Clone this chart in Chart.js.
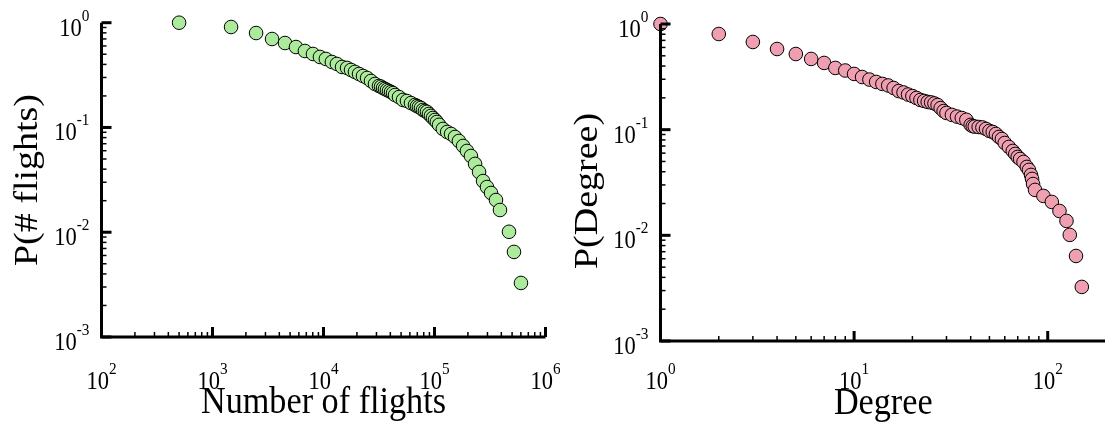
<!DOCTYPE html>
<html>
<head>
<meta charset="utf-8">
<script src="https://cdn.jsdelivr.net/npm/chart.js@4.4.1/dist/chart.umd.min.js"></script>
<style>
  html, body { margin: 0; padding: 0; background: #fff; overflow: hidden; }
  #wrap { position: relative; width: 1105px; height: 425px; overflow: hidden; }
  canvas { position: absolute; top: 0; }
  #flightsChart { left: 0; }
  #degreeChart { left: 560px; }
</style>
</head>
<body>
<div id="wrap">
  <canvas id="flightsChart" width="560" height="425"></canvas>
  <canvas id="degreeChart" width="560" height="425"></canvas>
</div>
<script>
// cumulative distribution of flights per airport
const flightCounts = [500, 1470, 2470, 3440, 4500, 5650, 6800, 8040, 9290, 10500,
  11900, 13200, 14700, 16300, 17700, 19200, 20900, 22700, 24700, 26800,
  29100, 31600, 33000, 34400, 35800, 37300, 38900, 40600, 42300, 44100,
  47900, 52000, 56500, 61400, 66700, 69500, 72400, 75500, 78700, 82000,
  85500, 89100, 92900, 96800, 101000, 105000, 110000, 119000, 130000, 141000,
  153000, 166000, 181000, 196000, 213000, 232000, 252000, 274000, 297000, 323000,
  358000, 389000, 469000, 520000, 601000];
const flightProb = [1, 0.91, 0.797, 0.699, 0.64, 0.586, 0.537, 0.503, 0.471, 0.451,
  0.422, 0.404, 0.378, 0.37, 0.354, 0.339, 0.324, 0.31, 0.297, 0.278,
  0.26, 0.249, 0.245, 0.238, 0.233, 0.228, 0.223, 0.218, 0.213, 0.204,
  0.195, 0.183, 0.179, 0.171, 0.164, 0.16, 0.157, 0.1535, 0.147, 0.1437,
  0.141, 0.1345, 0.129, 0.1232, 0.118, 0.1128, 0.106, 0.0968, 0.0906, 0.0867,
  0.0811, 0.0743, 0.0666, 0.0597, 0.0534, 0.0449, 0.0376, 0.0308, 0.027, 0.0237,
  0.0203, 0.0163, 0.0101, 0.00649, 0.00328];

// cumulative degree distribution
const degreeValues = [1, 2, 3, 4, 5, 6, 7, 8, 9, 10, 11, 12, 13, 14, 15, 16, 17, 18, 19, 20,
  21, 22, 23, 24, 25, 26, 27, 28, 29, 30, 32, 34, 36, 38, 40, 41, 42, 44, 46, 48,
  50, 52, 54, 56, 58, 60, 63, 66, 68, 70, 72, 75, 78, 80, 82, 83, 84, 86, 95, 105,
  115, 125, 130, 140, 150];
const degreeProb = [1, 0.804, 0.676, 0.58, 0.52, 0.467, 0.428, 0.384, 0.363, 0.337,
  0.315, 0.298, 0.283, 0.271, 0.262, 0.248, 0.232, 0.225, 0.215, 0.208,
  0.1995, 0.191, 0.187, 0.183, 0.181, 0.177, 0.171, 0.16, 0.15, 0.144,
  0.138, 0.133, 0.129, 0.124, 0.111, 0.108, 0.107, 0.106, 0.105, 0.1016,
  0.0973, 0.0951, 0.0911, 0.0853, 0.0816, 0.0748, 0.0686, 0.0629, 0.0589, 0.0552,
  0.0528, 0.0495, 0.0444, 0.0416, 0.0373, 0.0342, 0.0306, 0.0269, 0.0236, 0.0207,
  0.017, 0.0137, 0.0101, 0.00638, 0.00325];

// axis labels are written as powers of ten
const flightExps = [2, 3, 4, 5, 6];
const degreeExps = [0, 1, 2];
const probExps = [0, -1, -2, -3];

const SERIF = '"Liberation Serif", "Times New Roman", serif';
const SQUEEZE = 0.9;

function textW(ctx, t) {
  return ctx.measureText(t).width * SQUEEZE;
}

function squeezed(ctx, t, x, y) {
  ctx.save();
  ctx.translate(x, y);
  ctx.scale(SQUEEZE, 1);
  ctx.fillText(t, 0, 0);
  ctx.restore();
}

function drawPower(ctx, exp, x, baseline, align) {
  ctx.textAlign = "left";
  ctx.textBaseline = "alphabetic";
  ctx.font = `25px ${SERIF}`;
  const wb = textW(ctx, "10");
  ctx.font = `17px ${SERIF}`;
  const we = textW(ctx, String(exp));
  const left = align === "right" ? x - wb - we : x - (wb + we) / 2;
  ctx.font = `25px ${SERIF}`;
  squeezed(ctx, "10", left, baseline);
  ctx.font = `17px ${SERIF}`;
  squeezed(ctx, String(exp), left + wb, baseline - 15);
}

function logTickValues(min, max) {
  const out = [];
  for (let e = Math.floor(Math.log10(min)); e <= Math.ceil(Math.log10(max)); e++) {
    for (let m = 1; m <= 9; m++) {
      const v = m * Math.pow(10, e);
      if (v >= min * 0.999 && v <= max * 1.001) out.push({ v, major: m === 1 });
    }
  }
  return out;
}

// inward ticks, thick axis lines and the 10^n labels
const logAxes = {
  id: "logAxes",
  afterDraw(chart, args, o) {
    const { ctx, chartArea: a, scales: { x, y } } = chart;
    ctx.save();
    ctx.strokeStyle = "#000";
    ctx.fillStyle = "#000";
    ctx.lineCap = "butt";

    logTickValues(x.min, x.max).forEach((t) => {
      const px = x.getPixelForValue(t.v);
      ctx.lineWidth = t.major ? 3 : 1.5;
      ctx.beginPath();
      ctx.moveTo(px, a.bottom);
      ctx.lineTo(px, a.bottom - (t.major ? 10 : 5));
      ctx.stroke();
    });
    logTickValues(y.min, y.max).forEach((t) => {
      const py = y.getPixelForValue(t.v);
      ctx.lineWidth = t.major ? 3 : 1.5;
      ctx.beginPath();
      ctx.moveTo(a.left, py);
      ctx.lineTo(a.left + (t.major ? 10 : 5), py);
      ctx.stroke();
    });

    ctx.lineWidth = 3;
    ctx.lineJoin = "miter";
    ctx.beginPath();
    ctx.moveTo(a.left, a.top);
    ctx.lineTo(a.left, a.bottom);
    ctx.lineTo(a.right, a.bottom);
    ctx.stroke();

    o.xExps.forEach((e) => {
      drawPower(ctx, e, x.getPixelForValue(Math.pow(10, e)), a.bottom + o.xLabelGap, "center");
    });
    o.yExps.forEach((e) => {
      drawPower(ctx, e, a.left - 12, y.getPixelForValue(Math.pow(10, e)) + 13, "right");
    });

    ctx.font = `38px ${SERIF}`;
    ctx.textAlign = "center";
    ctx.textBaseline = "alphabetic";
    squeezed(ctx, o.xTitle, (a.left + a.right) / 2, o.xTitleBaseline);

    ctx.save();
    ctx.translate(o.yTitleX, o.yTitleY);
    ctx.rotate(-Math.PI / 2);
    ctx.scale(1, SQUEEZE);
    ctx.fillText(o.yTitle, 0, 0);
    ctx.restore();

    ctx.restore();
  },
};

function makeChart(id, xs, ys, color, xMin, xMax, pad, yWidth, xHeight, axisOpts) {
  const ctx = document.getElementById(id).getContext("2d");
  return new Chart(ctx, {
    type: "scatter",
    data: {
      datasets: [
        {
          data: xs.map((v, i) => ({ x: v, y: ys[i] })),
          backgroundColor: color,
          borderColor: "#000",
          borderWidth: 1,
          pointRadius: 6.8,
          clip: false,
        },
      ],
    },
    options: {
      responsive: false,
      animation: false,
      devicePixelRatio: 1,
      layout: { padding: pad },
      plugins: {
        legend: { display: false },
        tooltip: { enabled: false },
        logAxes: axisOpts,
      },
      scales: {
        x: {
          type: "logarithmic",
          min: xMin,
          max: xMax,
          grid: { display: false },
          border: { display: false },
          ticks: { display: false },
          afterFit: (s) => { s.height = xHeight; },
        },
        y: {
          type: "logarithmic",
          min: 0.001,
          max: 1,
          grid: { display: false },
          border: { display: false },
          ticks: { display: false },
          afterFit: (s) => { s.width = yWidth; },
        },
      },
    },
    plugins: [logAxes],
  });
}

makeChart("flightsChart", flightCounts, flightProb, "#aceb9b", 100, 1e6,
  { top: 22.7, right: 14.5, left: 0, bottom: 0 }, 101.5, 88, {
    xTitle: "Number of flights",
    yTitle: "P(# flights)",
    xExps: flightExps,
    yExps: probExps,
    xLabelGap: 52,
    xTitleBaseline: 413,
    yTitleX: 37,
    yTitleY: 180,
  });

makeChart("degreeChart", degreeValues, degreeProb, "#ef9fb0", 1, 200,
  { top: 24, right: 14, left: 0, bottom: 0 }, 100.5, 84, {
    xTitle: "Degree",
    yTitle: "P(Degree)",
    xExps: degreeExps,
    yExps: probExps,
    xLabelGap: 48,
    xTitleBaseline: 414,
    yTitleX: 37,
    yTitleY: 191,
  });
</script>
</body>
</html>
